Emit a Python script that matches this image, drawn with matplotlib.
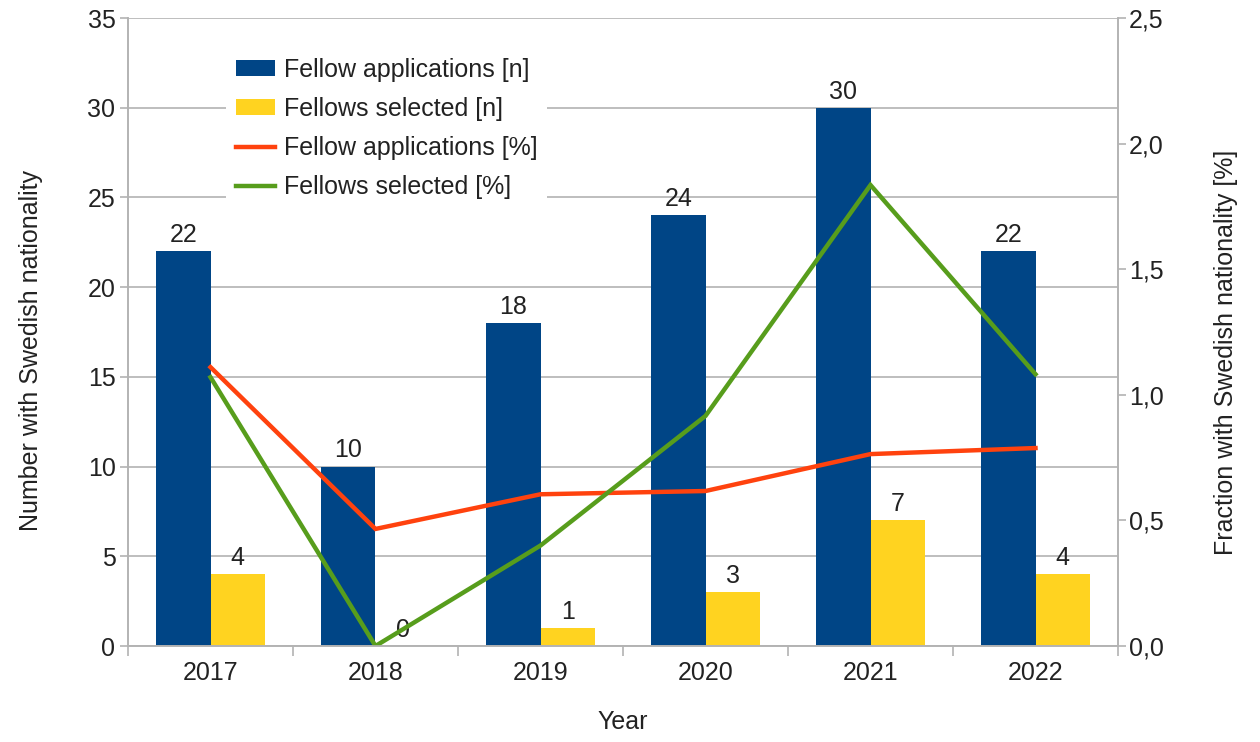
import matplotlib
matplotlib.use("Agg")
import matplotlib.pyplot as plt
from matplotlib.patches import Patch
from matplotlib.lines import Line2D
from matplotlib.ticker import FuncFormatter, MultipleLocator
import numpy as np

plt.rcParams['font.family'] = ['Liberation Sans', 'DejaVu Sans']

years = ["2017", "2018", "2019", "2020", "2021", "2022"]
applications_n = [22, 10, 18, 24, 30, 22]
selected_n = [4, 0, 1, 3, 7, 4]
applications_pct = [1.11, 0.466, 0.604, 0.617, 0.764, 0.788]
selected_pct = [1.07, 0.0, 0.40, 0.916, 1.835, 1.082]

BLUE = "#004586"
YELLOW = "#ffd320"
RED = "#ff420e"
GREEN = "#579d1c"
GRID = "#b3b3b3"
TEXT = "#222222"
FS = 18

fig = plt.figure(figsize=(12.6, 7.42), dpi=100)
ax = fig.add_axes([128 / 1260, 1 - 646 / 742, 990 / 1260, 628 / 742])
ax2 = ax.twinx()

x = np.arange(len(years))
w = 0.33
b1 = ax.bar(x - w / 2, applications_n, w, color=BLUE, zorder=2)
b2 = ax.bar(x + w / 2, selected_n, w, color=YELLOW, zorder=2)
for rect, v in zip(b1, applications_n):
    ax.annotate(str(v), (rect.get_x() + rect.get_width() / 2, v), xytext=(0, 3),
                textcoords="offset points", ha="center", va="bottom", fontsize=FS, color=TEXT)
for rect, v in zip(b2, selected_n):
    ax.annotate(str(v), (rect.get_x() + rect.get_width() / 2, v), xytext=(0, 3),
                textcoords="offset points", ha="center", va="bottom", fontsize=FS, color=TEXT)

ax2.plot(x, applications_pct, color=RED, lw=3.2, solid_joinstyle="miter")
ax2.plot(x, selected_pct, color=GREEN, lw=3.2, solid_joinstyle="miter")

ax.set_xlim(-0.5, len(years) - 0.5)
ax.set_ylim(0, 35)
ax2.set_ylim(0, 2.5)
ax.yaxis.set_major_locator(MultipleLocator(5))
ax2.yaxis.set_major_locator(MultipleLocator(0.5))
ax2.yaxis.set_major_formatter(FuncFormatter(lambda v, p: f"{v:.1f}".replace(".", ",")))

ax.set_xticks(x)
ax.set_xticklabels(years)
ax.set_xticks(np.arange(-0.5, len(years)), minor=True)
ax.tick_params(axis="x", which="major", length=0, pad=11, labelsize=FS, labelcolor=TEXT)
ax.tick_params(axis="x", which="minor", length=7, color=GRID, width=1.2)
ax.tick_params(axis="y", length=6, color=GRID, width=1.2, labelsize=FS, labelcolor=TEXT, pad=3)
ax2.tick_params(axis="y", length=6, color=GRID, width=1.2, labelsize=FS, labelcolor=TEXT, pad=2)

ax.set_axisbelow(True)
ax.yaxis.grid(True, color=GRID, lw=1.2, zorder=0)
for a in (ax, ax2):
    a.spines["top"].set_visible(False)
    for s in ("left", "right", "bottom"):
        a.spines[s].set_color(GRID)
        a.spines[s].set_linewidth(1.2)

ax.set_xlabel("Year", fontsize=FS, color=TEXT, labelpad=18)
ax.set_ylabel("Number with Swedish nationality", fontsize=FS, color=TEXT, labelpad=32)
ax2.set_ylabel("Fraction with Swedish nationality [%]", fontsize=FS, color=TEXT, labelpad=36)
ax.yaxis.label.set_y(0.47)
ax2.yaxis.label.set_y(0.468)

handles = [
    Patch(facecolor=BLUE, label="Fellow applications [n]"),
    Patch(facecolor=YELLOW, label="Fellows selected [n]"),
    Line2D([0], [0], color=RED, lw=3.2, label="Fellow applications [%]"),
    Line2D([0], [0], color=GREEN, lw=3.2, label="Fellows selected [%]"),
]
leg = ax2.legend(handles=handles, loc="upper left",
                 bbox_to_anchor=(226 / 1260, 1 - 48 / 742), bbox_transform=fig.transFigure,
                 fontsize=FS, frameon=True, facecolor="white", edgecolor="none", framealpha=1,
                 handlelength=1.55, handleheight=0.6, handletextpad=0.35, labelspacing=0.6,
                 borderpad=0.4, borderaxespad=0, fancybox=False)
for t in leg.get_texts():
    t.set_color(TEXT)

fig.savefig("out.png", dpi=100)
